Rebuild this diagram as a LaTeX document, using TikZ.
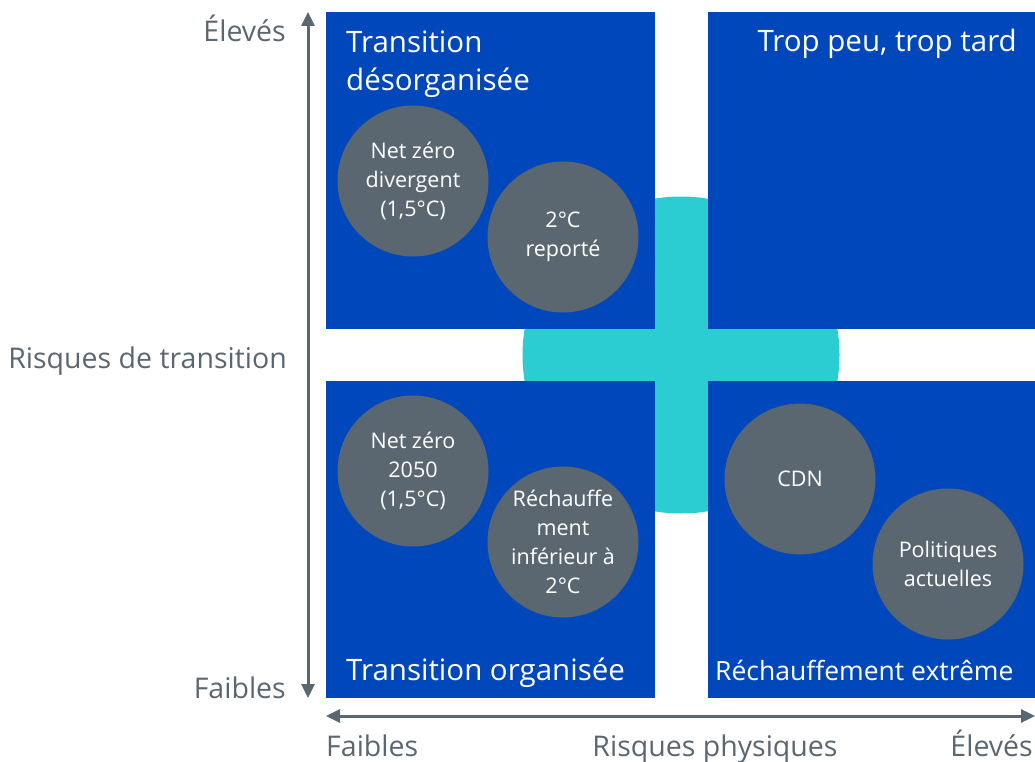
\documentclass[tikz,border=0pt]{standalone}
\usepackage{fontspec}
\setmainfont{Open Sans}
\usetikzlibrary{arrows.meta}

\definecolor{quadblue}{HTML}{0047BB}
\definecolor{crosscyan}{HTML}{2CCCD3}
\definecolor{scengray}{HTML}{5B6770}

\begin{document}
\begin{tikzpicture}[x=1pt, y=-1pt]
    % Styles de la matrice
    \tikzset{
        quadrant/.style={
            fill=quadblue, inner sep=0pt, minimum width=329pt, minimum height=317pt, anchor=north west
        },
        scenario/.style={
            circle, fill=scengray, text=white, minimum size=151pt, inner sep=0pt, align=center,
            font=\fontsize{21.5}{29}\selectfont
        },
        quadtitle/.style={text=white, inner sep=0pt, font=\fontsize{29.5}{38}\selectfont},
        axislabel/.style={text=scengray, inner sep=0pt, font=\fontsize{28.5}{34}\selectfont},
        axis/.style={
            draw=scengray, line width=3pt,
            {Triangle[length=14pt,width=13pt]}-{Triangle[length=14pt,width=13pt]}
        }
    }
    \useasboundingbox (0,0) rectangle (1035,762);
    \clip (0,0) rectangle (1035,762);

    % Croix centrale
    \node[circle, fill=crosscyan, minimum size=317pt, inner sep=0pt] (cross) at (681,355) {};

    % Quadrants
    \node[quadrant] (tl) at (326,12) {};
    \node[quadrant] (tr) at (708,12) {};
    \node[quadrant] (bl) at (326,381) {};
    \node[quadrant] (br) at (708,381) {};

    % Titres des quadrants
    \node[quadtitle, anchor=north west, align=left] (tltitle) at (346,31) {Transition\\désorganisée};
    \node[quadtitle, anchor=base east] (trtitle) at (1017,52) {Trop peu, trop tard};
    \node[quadtitle, anchor=base west] (bltitle) at (346,680) {Transition organisée};
    \node[quadtitle, anchor=base west, font=\fontsize{26.5}{34}\selectfont] (brtitle) at (715,680) {Réchauffement extrême};

    % Scenarios
    \node[scenario] (divergent) at (413,181) {Net zéro\\divergent\\(1,5°C)};
    \node[scenario] (reporte) at (563,237) {2°C\\reporté};
    \node[scenario] (netzero) at (413,471) {Net zéro\\2050\\(1,5°C)};
    \node[scenario] (inferieur) at (563,542) {Réchauffe\\ment\\inférieur à\\2°C};
    \node[scenario] (cdn) at (800,479) {CDN};
    \node[scenario] (politiques) at (948,564) {Politiques\\actuelles};

    % Axes
    \coordinate (ytop) at (308,12);
    \coordinate (ybot) at (308,698);
    \coordinate (xleft) at (326,716);
    \coordinate (xright) at (1035,716);
    \draw[axis] (ybot) -- (ytop);
    \draw[axis] (xleft) -- (xright);

    % Libelles des axes
    \node[axislabel, anchor=base east] (yhigh) at (286,42) {Élevés};
    \node[axislabel, anchor=base east] (ylow) at (286,698) {Faibles};
    \node[axislabel, anchor=base east] (ytitle) at (287,368) {Risques de transition};
    \node[axislabel, anchor=base west] (xlow) at (326,756) {Faibles};
    \node[axislabel, anchor=base] (xtitle) at (715,756) {Risques physiques};
    \node[axislabel, anchor=base east] (xhigh) at (1033,756) {Élevés};
\end{tikzpicture}
\end{document}
